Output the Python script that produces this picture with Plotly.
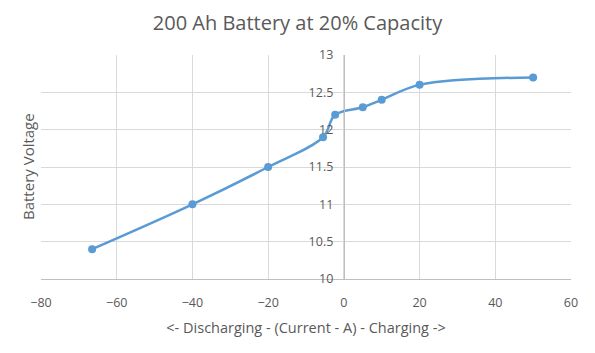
import plotly.graph_objects as go

current = [-66.5, -40, -20, -5.5, -2.3, 5, 10, 20, 50]
voltage = [10.4, 11.0, 11.5, 11.9, 12.2, 12.3, 12.4, 12.6, 12.7]

title = "200 Ah Battery at 20% Capacity"
x_title = "<- Discharging - (Current - A) - Charging ->"
y_title = "Battery Voltage"

grey = "#595959"
grid = "#d9d9d9"
font = "Open Sans"

fig = go.Figure()
fig.add_trace(go.Scatter(
    x=current, y=voltage, mode="lines+markers",
    line=dict(color="#5b9bd5", width=2.5, shape="spline", smoothing=1),
    marker=dict(color="#5b9bd5", size=8),
    showlegend=False,
))

xmin, xmax = -80, 60
L, R, T, B = 41, 24, 55, 74
fig.update_layout(
    width=595, height=353,
    margin=dict(l=L, r=R, t=T, b=B),
    paper_bgcolor="white", plot_bgcolor="white",
    font=dict(family=font, color=grey, size=12),
    title=dict(text=title, x=0.5, xanchor="center", y=1 - 23 / 353, yanchor="middle",
               font=dict(size=20, color=grey, family=font)),
    xaxis=dict(range=[xmin, xmax], dtick=20, showgrid=True, gridcolor=grid, gridwidth=1,
               zeroline=False, showline=True, linecolor="#bfbfbf", ticks="",
               ticklabelstandoff=12, tickfont=dict(size=12.5, color=grey),
               title=dict(text=x_title, font=dict(size=14.5, color=grey), standoff=12)),
    yaxis=dict(range=[10, 13], dtick=0.5, showgrid=True, gridcolor=grid, gridwidth=1,
               zeroline=False, showline=True, linecolor="#bfbfbf", ticks="",
               anchor="free", position=(0 - xmin) / (xmax - xmin),
               ticklabelstandoff=8,
               tickfont=dict(size=12.5, color=grey)),
    annotations=[dict(text=y_title, textangle=-90, x=(28 - L) / (595 - L - R), y=0.5,
                      xref="paper", yref="paper",
                      xanchor="center", yanchor="middle", showarrow=False,
                      font=dict(size=15, color=grey))],
)
fig.write_html("out.html")
